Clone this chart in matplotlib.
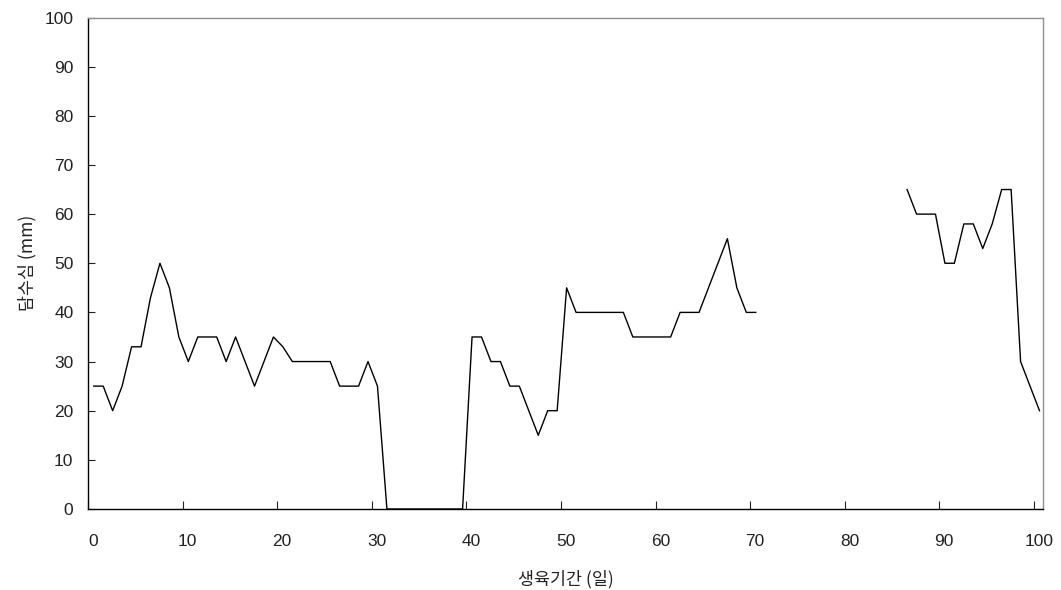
import matplotlib.pyplot as plt
import matplotlib.transforms as mtransforms
import numpy as np

plt.rcParams['font.family'] = ['Liberation Sans', 'Noto Sans CJK KR', 'DejaVu Sans']

# daily ponding depth (mm); NaN = no record
depth = [25, 25, 20, 25, 33, 33, 43, 50, 45, 35,
         30, 35, 35, 35, 30, 35, 30, 25, 30, 35,
         33, 30, 30, 30, 30, 30, 25, 25, 25, 30,
         25, 0, 0, 0, 0, 0, 0, 0, 0, 0,
         35, 35, 30, 30, 25, 25, 20, 15, 20, 20,
         45, 40, 40, 40, 40, 40, 40, 35, 35, 35,
         35, 35, 40, 40, 40, 45, 50, 55, 45, 40,
         40, np.nan, np.nan, np.nan, np.nan, np.nan, np.nan, np.nan, np.nan, np.nan,
         np.nan, np.nan, np.nan, np.nan, np.nan, np.nan, 65, 60, 60, 60,
         50, 50, 58, 58, 53, 58, 65, 65, 30, 25,
         20]
days = np.arange(len(depth)) + 0.6

xticks = list(range(0, 101, 10))
yticks = list(range(0, 101, 10))

fig = plt.figure(figsize=(10.61, 5.90), dpi=100)
ax = fig.add_axes([0.083, 0.1373, 0.9003, 0.833])

ax.plot(days, depth, color='black', linewidth=1.0)

ax.set_xlim(0, 101)
ax.set_ylim(0, 100)
ax.set_xticks(xticks)
ax.set_yticks(yticks)
ax.tick_params(axis='both', direction='in', labelsize=12.5, colors='#222222')
ax.tick_params(axis='x', length=6, pad=18)
ax.tick_params(axis='y', length=5, pad=10.5)

for lab in ax.get_xticklabels():
    lab.set_transform(lab.get_transform() +
                      mtransforms.ScaledTranslation(5 / 100, 0, fig.dpi_scale_trans))

for s in ['left', 'bottom']:
    ax.spines[s].set_color('black')
    ax.spines[s].set_linewidth(1.0)
for s in ['top', 'right']:
    ax.spines[s].set_color('#909090')
    ax.spines[s].set_linewidth(1.0)

kfont = ['Noto Sans CJK KR', 'DejaVu Sans']
ax.set_xlabel('생육기간 (일)', fontsize=12.5, color='#222222', labelpad=15, family=kfont)
ax.set_ylabel('담수심 (mm)', fontsize=12.5, color='#222222', labelpad=6, family=kfont)

fig.savefig('out.png', dpi=100)
